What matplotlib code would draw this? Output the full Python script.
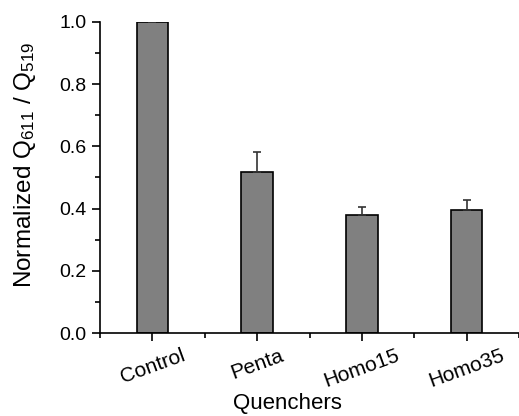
import matplotlib
matplotlib.use("Agg")
import matplotlib.pyplot as plt
import matplotlib.transforms as mtransforms
from matplotlib.ticker import MultipleLocator

quenchers = ["Control", "Penta", "Homo15", "Homo35"]
ratio = [1.0, 0.517, 0.378, 0.395]
err = [0.0, 0.064, 0.027, 0.032]

plt.rcParams["font.family"] = "Liberation Sans"
plt.rcParams["mathtext.default"] = "regular"

fig = plt.figure(figsize=(5.19, 4.16), dpi=100)
ax = fig.add_axes([100 / 519, 83 / 416, 419 / 519, 311 / 416])

x = range(1, len(quenchers) + 1)
lower = [0] * len(err)
ax.bar(x, ratio, width=0.3, color="#808080", edgecolor="black", linewidth=1.2,
       yerr=[lower, err], capsize=3, error_kw=dict(elinewidth=1.2, capthick=1.2, ecolor="#333333"))

ax.set_xlim(0.5, 4.5)
ax.set_ylim(0, 1.0)
ax.set_xticks(list(x))
ax.set_xticklabels(quenchers, rotation=20, ha="center", fontsize=15)
# shift tick labels a little to the left, as in the original
shift = mtransforms.ScaledTranslation(-8 / 100, 0, fig.dpi_scale_trans)
for lab in ax.get_xticklabels():
    lab.set_transform(lab.get_transform() + shift)
ax.xaxis.set_minor_locator(MultipleLocator(0.5))
ax.yaxis.set_major_locator(MultipleLocator(0.2))
ax.yaxis.set_minor_locator(MultipleLocator(0.1))
ax.tick_params(axis="y", labelsize=14)
ax.tick_params(which="major", direction="out", length=6, width=1.2)
ax.tick_params(which="minor", direction="out", length=3.5, width=1.2)
ax.set_yticklabels([f"{v:.1f}" for v in ax.get_yticks()])

for s in ["top", "right"]:
    ax.spines[s].set_visible(False)
for s in ["left", "bottom"]:
    ax.spines[s].set_linewidth(1.2)

ax.set_ylabel("Normalized Q$_{611}$ / Q$_{519}$", fontsize=17.5, va="center")
ax.yaxis.set_label_coords(-0.18, 0.54)
ax.set_xlabel("Quenchers", fontsize=16, va="center")
ax.xaxis.set_label_coords(0.447, -0.228)

fig.savefig("out.png", dpi=100)
